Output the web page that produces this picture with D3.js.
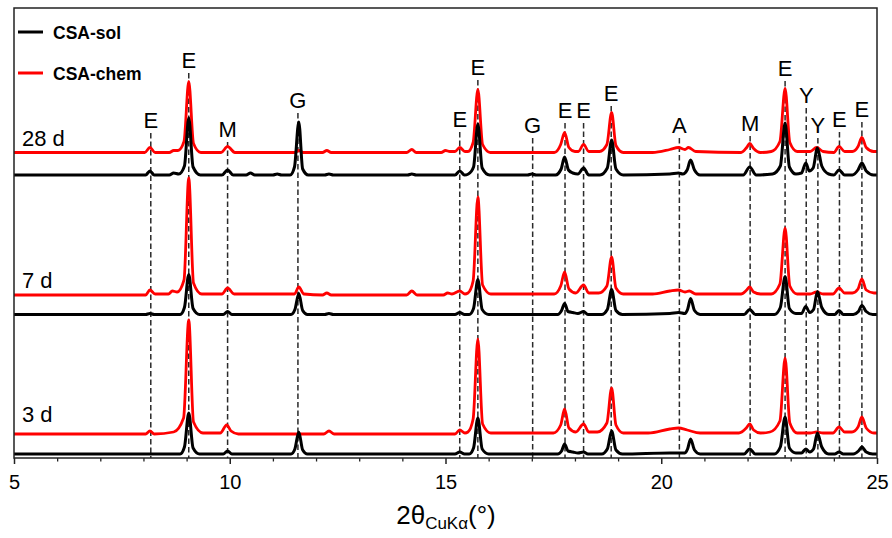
<!DOCTYPE html>
<html>
<head>
<meta charset="utf-8">
<script src="https://cdn.jsdelivr.net/npm/d3@7"></script>
<style>
  html, body { margin: 0; padding: 0; background: #fff; }
  svg { display: block; font-family: Arial, "Liberation Sans", sans-serif; }
</style>
</head>
<body>
<svg id="chart" width="892" height="538"></svg>
<script>
// ---------------- data ----------------
const xTicks = [5, 10, 15, 20, 25];
const xMinorTicks = [6, 7, 8, 9, 11, 12, 13, 14, 16, 17, 18, 19, 21, 22, 23, 24];
const seriesNames = ["CSA-sol", "CSA-chem"];
const ages = ["3 d", "7 d", "28 d"];
// vertical offsets of each pattern (intensity units)
const solOffsets = [4, 143.5, 283];
const chemOffsets = [24, 163, 305.5];

// phase annotations
const phaseLabels = ["E", "E", "M", "G", "E", "E", "G", "E", "E", "E", "A", "M", "E", "Y", "Y", "E", "E"];
const phasePos = [8.17, 9.05, 9.95, 11.58, 15.33, 15.75, 17.02, 17.77, 18.2, 18.84, 20.42, 22.06, 22.87, 23.36, 23.63, 24.13, 24.65];
const phaseLabelLevel = [330, 390, 321, 350, 331, 383, 325, 340, 340, 357, 325, 327, 382, 355, 325, 331, 341];

// 3 d patterns [2theta, intensity]
const sol3 = [[5,0],[8.85,0],[8.95,7],[9.05,41],[9.15,6],[9.3,0],[9.85,0],[9.95,3],[10.05,0],
  [11.42,0],[11.51,5],[11.6,22],[11.69,4],[11.8,0],[15.22,0],[15.33,2],[15.44,0],
  [15.55,0],[15.65,6],[15.75,36],[15.85,5],[16.0,0],[17.6,0],[17.69,3],[17.76,10],[17.84,3],[17.95,2],[18.07,1],[18.2,2],[18.3,0],
  [18.62,0],[18.75,5],[18.85,23],[18.95,4],[19.1,0],[20.2,1],[20.4,1],[20.55,1],[20.61,5],[20.68,15],[20.77,4],[20.9,0],
  [21.92,0],[22.05,5],[22.18,0],[22.62,0],[22.76,7],[22.87,37],[22.97,6],[23.12,1],[23.25,1],[23.35,5],[23.44,2],[23.53,5],[23.62,21],[23.72,7],[23.88,0],
  [24.02,0],[24.12,2],[24.22,0],[24.45,0],[24.57,3],[24.65,7],[24.75,2],[24.9,0],[25,0]];
const chem3 = [[5,0],[8.05,0],[8.15,3],[8.25,0],[8.7,2],[8.93,16],[9.05,114],[9.16,12],[9.38,1],
  [9.78,1],[9.93,9],[10.03,3],[10.2,0],[12.18,0],[12.3,3],[12.42,0],[15.22,0],[15.33,4],[15.45,1],
  [15.52,2],[15.64,15],[15.75,95],[15.86,10],[16.05,1],[17.5,1],[17.67,9],[17.76,25],[17.86,6],[18.02,2],
  [18.2,10],[18.32,2],[18.52,2],[18.74,11],[18.85,46],[18.95,9],[19.12,1],[19.7,1],[20.2,5],[20.4,6],[20.6,4],[20.9,1],
  [21.8,1],[21.97,6],[22.05,10],[22.14,4],[22.3,1],[22.52,2],[22.75,13],[22.87,76],[22.98,11],[23.15,1],
  [23.45,1],[23.6,2],[23.75,1],[23.98,1],[24.12,7],[24.25,2],[24.42,2],[24.56,7],[24.65,17],[24.75,6],[24.93,1],[25,1]];

// 7 d patterns
const sol7 = [[5,0],[8.05,0],[8.15,1],[8.25,0],[8.85,0],[8.95,7],[9.05,40],[9.15,6],[9.3,0],[9.85,0],[9.95,3],[10.05,0],
  [11.42,0],[11.51,5],[11.6,21],[11.69,4],[11.8,0],[12.2,0],[12.3,1],[12.4,0],[15.22,0],[15.33,2],[15.44,0],
  [15.55,0],[15.65,6],[15.75,35],[15.85,5],[16.0,0],[17.6,0],[17.69,4],[17.76,11],[17.84,3],[17.95,2],[18.07,1],[18.2,3],[18.3,0],
  [18.62,0],[18.75,5],[18.85,25],[18.95,4],[19.1,0],[20.2,1],[20.4,2],[20.55,1],[20.61,5],[20.68,16],[20.77,4],[20.9,0],
  [21.92,0],[22.05,5],[22.18,0],[22.62,0],[22.76,7],[22.87,38],[22.97,6],[23.12,1],[23.25,1],[23.35,8],[23.44,2],[23.53,5],[23.62,23],[23.72,7],[23.88,0],
  [24.02,0],[24.12,4],[24.22,0],[24.45,0],[24.57,3],[24.65,9],[24.75,3],[24.9,0],[25,0]];
const chem7 = [[5,0],[8.05,0],[8.15,5],[8.27,1],[8.58,1],[8.67,4],[8.78,3],[8.94,15],[9.05,117],[9.16,12],[9.35,1],
  [9.82,1],[9.95,7],[10.1,1],[11.5,1],[11.6,8],[11.72,1],[12.15,0],[12.25,2],[12.35,0],[14.1,0],[14.22,4],[14.34,0],
  [14.95,0],[15.05,2],[15.15,1],[15.33,4],[15.45,1],[15.52,2],[15.64,14],[15.75,98],[15.86,10],[16.05,1],
  [17.52,1],[17.67,9],[17.76,23],[17.86,6],[18.02,2],[18.2,10],[18.32,2],[18.55,2],[18.74,9],[18.85,38],[18.95,7],[19.12,1],
  [19.8,1],[20.2,4],[20.4,5],[20.55,3],[20.65,4],[20.8,1],[21.85,1],[21.98,5],[22.05,8],[22.14,3],[22.3,1],
  [22.55,1],[22.75,11],[22.87,67],[22.98,9],[23.15,1],[23.45,1],[23.6,3],[23.75,1],[23.98,1],[24.12,7],[24.25,2],
  [24.43,2],[24.56,6],[24.65,16],[24.75,5],[24.93,2],[25,2]];

// 28 d patterns
const sol28 = [[5,0],[8.05,0],[8.15,4],[8.25,0],[8.6,0],[8.7,2],[8.82,1],[8.95,9],[9.05,57],[9.15,8],[9.32,0],
  [9.82,0],[9.95,5],[10.08,0],[10.38,0],[10.48,2],[10.58,0],[11.0,0],[11.1,1],[11.2,0],
  [11.4,0],[11.5,8],[11.6,53],[11.69,6],[11.82,0],[12.2,0],[12.3,1],[12.4,0],[14.12,0],[14.22,1],[14.32,0],
  [15.22,0],[15.33,4],[15.44,0],[15.53,1],[15.65,8],[15.75,51],[15.85,7],[16.02,0],[16.9,0],[17.0,1],[17.1,0],
  [17.55,0],[17.68,6],[17.76,18],[17.85,5],[17.95,2],[18.07,1],[18.2,7],[18.32,0],
  [18.58,0],[18.75,7],[18.85,35],[18.95,6],[19.12,0],[20.2,1],[20.4,2],[20.5,1],[20.6,5],[20.68,15],[20.77,5],[20.9,0],
  [21.9,0],[22.05,8],[22.2,0],[22.58,1],[22.76,9],[22.87,52],[22.97,8],[23.12,1],[23.25,2],[23.35,12],[23.43,4],[23.52,7],[23.62,27],[23.72,9],[23.88,1],
  [24.0,0],[24.12,5],[24.25,0],[24.43,0],[24.56,5],[24.65,12],[24.75,4],[24.92,0],[25,0]];
const chem28 = [[5,0],[8.03,0],[8.15,5],[8.27,0],[8.6,0],[8.7,2],[8.8,2],[8.94,11],[9.05,71],[9.16,9],[9.33,0],
  [9.8,0],[9.95,6],[10.12,0],[11.5,0],[11.6,2],[11.7,0],[12.15,0],[12.25,2],[12.35,0],[14.1,0],[14.22,3],[14.32,0],
  [14.9,0],[15.0,2],[15.1,1],[15.22,1],[15.33,5],[15.45,1],[15.52,1],[15.64,10],[15.75,63],[15.86,8],[16.04,0],
  [17.52,0],[17.67,8],[17.76,20],[17.86,5],[18.0,1],[18.08,1],[18.2,8],[18.32,1],
  [18.57,1],[18.74,8],[18.85,40],[18.95,7],[19.12,0],[19.8,0],[20.2,3],[20.4,5],[20.55,3],[20.63,5],[20.8,1],
  [21.85,0],[21.98,5],[22.05,9],[22.14,4],[22.3,0],[22.55,1],[22.75,11],[22.87,64],[22.98,10],[23.15,1],
  [23.45,1],[23.6,5],[23.75,1],[24.0,0],[24.12,6],[24.25,1],[24.43,1],[24.56,6],[24.65,15],[24.75,5],[24.92,1],[25,1]];

const solData = [sol3, sol7, sol28];
const chemData = [chem3, chem7, chem28];

// ---------------- drawing ----------------
const svg = d3.select("#chart");
const plot = { left: 14, right: 877, top: 8, bottom: 458 };

const x = d3.scaleLinear().domain([5, 25]).range([plot.left, plot.right]);
const y = d3.scaleLinear().domain([0, 450]).range([plot.bottom, plot.top]);

const FONT = 'Arial, "Liberation Sans", sans-serif';

// dashed reference lines (under the traces)
const dashG = svg.append("g");
phasePos.forEach((p, i) => {
  dashG.append("line")
    .attr("x1", x(p)).attr("x2", x(p))
    .attr("y1", y(phaseLabelLevel[i]) + 5)
    .attr("y2", plot.bottom)
    .attr("stroke", "#2a2a2a")
    .attr("stroke-width", 1.5)
    .attr("stroke-dasharray", "5.5,3");
});

const line = (offset) => d3.line()
  .x(d => x(d[0]))
  .y(d => y(d[1] + offset))
  .curve(d3.curveMonotoneX);

const traceG = svg.append("g").attr("fill", "none").attr("stroke-linejoin", "round");
[2, 1, 0].forEach(k => {
  traceG.append("path")
    .datum(chemData[k])
    .attr("d", line(chemOffsets[k]))
    .attr("stroke", "#ff0000")
    .attr("stroke-width", 2.8);
  traceG.append("path")
    .datum(solData[k])
    .attr("d", line(solOffsets[k]))
    .attr("stroke", "#000000")
    .attr("stroke-width", 3);
});

// phase labels
phasePos.forEach((p, i) => {
  svg.append("text")
    .attr("x", x(p))
    .attr("y", y(phaseLabelLevel[i]))
    .attr("text-anchor", "middle")
    .attr("font-size", 22)
    .attr("font-family", FONT)
    .attr("fill", "#000")
    .text(phaseLabels[i]);
});

// age labels
const ageBase = [422, 288, 146];
ages.forEach((a, i) => {
  svg.append("text")
    .attr("x", plot.left + 8)
    .attr("y", ageBase[i])
    .attr("font-size", 22)
    .attr("font-family", FONT)
    .attr("fill", "#000")
    .text(a);
});

// frame
svg.append("rect")
  .attr("x", plot.left).attr("y", plot.top)
  .attr("width", plot.right - plot.left)
  .attr("height", plot.bottom - plot.top)
  .attr("fill", "none")
  .attr("stroke", "#222")
  .attr("stroke-width", 1.5);

// axes
const xAxis = svg.append("g")
  .attr("transform", `translate(0,${plot.bottom})`)
  .call(d3.axisBottom(x).tickValues(xTicks).tickSize(6).tickPadding(11).tickFormat(d3.format("d")));
xAxis.select(".domain").remove();
xAxis.selectAll(".tick line").attr("stroke", "#222").attr("stroke-width", 1.5);
xAxis.selectAll(".tick text").attr("font-size", 20).attr("font-family", FONT).attr("fill", "#000");

const xMinor = svg.append("g")
  .attr("transform", `translate(0,${plot.bottom})`)
  .call(d3.axisBottom(x).tickValues(xMinorTicks).tickSize(3.5).tickFormat(""));
xMinor.select(".domain").remove();
xMinor.selectAll(".tick line").attr("stroke", "#222").attr("stroke-width", 1.3);

// axis title
const title = svg.append("text")
  .attr("x", 446).attr("y", 524)
  .attr("text-anchor", "middle")
  .attr("font-family", FONT)
  .attr("font-size", 26)
  .attr("fill", "#000");
title.append("tspan").text("2θ");
title.append("tspan").attr("font-size", 17).attr("dy", 5).text("CuKα");
title.append("tspan").attr("dy", -5).text("(°)");

// legend
const legendColors = ["#000000", "#ff0000"];
const legendY = [32, 73];
seriesNames.forEach((n, i) => {
  svg.append("line")
    .attr("x1", 18).attr("x2", 43)
    .attr("y1", legendY[i]).attr("y2", legendY[i])
    .attr("stroke", legendColors[i])
    .attr("stroke-width", 3);
  svg.append("text")
    .attr("x", 53).attr("y", legendY[i] + 6.5)
    .attr("font-family", FONT)
    .attr("font-size", 17.5)
    .attr("font-weight", "bold")
    .attr("fill", "#000")
    .text(n);
});
</script>
</body>
</html>
